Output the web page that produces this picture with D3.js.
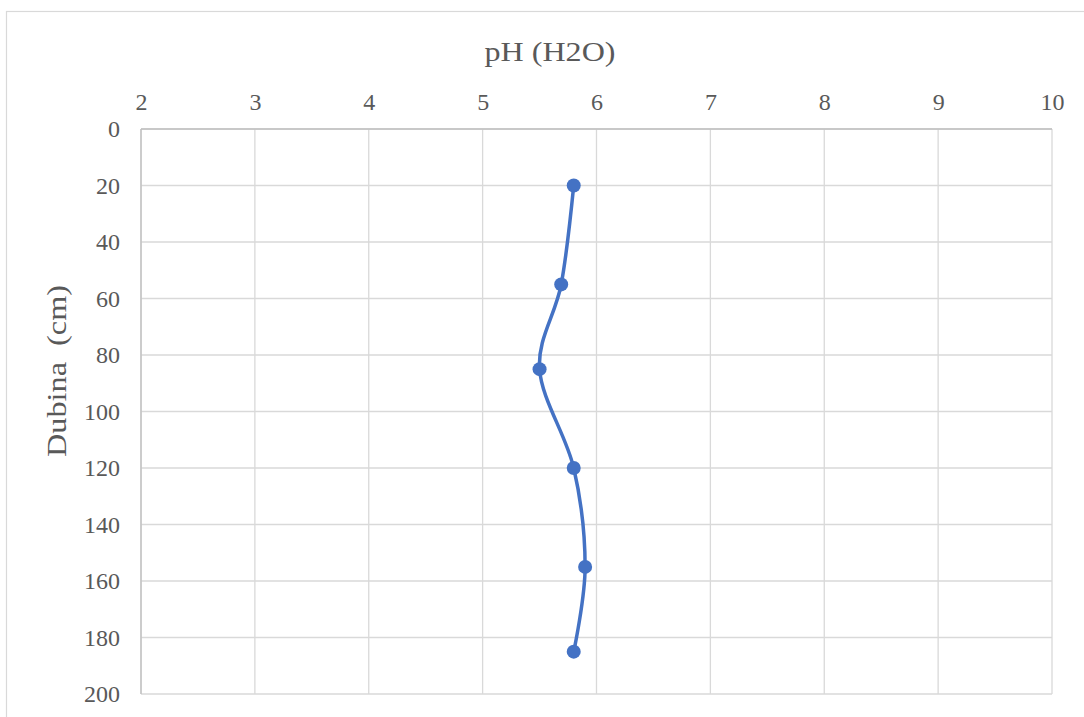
<!DOCTYPE html>
<html>
<head>
<meta charset="utf-8">
<script src="https://cdn.jsdelivr.net/npm/d3@7"></script>
<style>
  html, body { margin: 0; padding: 0; background: #fff; }
  svg { display: block; }
  text { font-family: "Liberation Serif", "Times New Roman", serif; fill: #595959; }
</style>
</head>
<body>
<svg id="chart" width="1084" height="717"></svg>
<script>
// Data
const phValues = [5.8, 5.69, 5.5, 5.8, 5.9, 5.8];
const depthValues = [20, 55, 85, 120, 155, 185];
const xTicks = [2, 3, 4, 5, 6, 7, 8, 9, 10];
const yTicks = [0, 20, 40, 60, 80, 100, 120, 140, 160, 180, 200];
const chartTitle = "pH (H2O)";
const yTitle = "Dubina  (cm)";

const svg = d3.select("#chart");
const W = 1084, H = 717;

// chart border
svg.append("rect")
  .attr("x", 6.5).attr("y", 11.5)
  .attr("width", W + 20).attr("height", H + 20)
  .attr("fill", "#fff").attr("stroke", "#d9d9d9").attr("stroke-width", 1.2);

const x = d3.scaleLinear().domain([2, 10]).range([141, 1052]);
const y = d3.scaleLinear().domain([0, 200]).range([129, 694]);

// gridlines
const g = svg.append("g");
g.selectAll("line.vx").data(xTicks).join("line")
  .attr("x1", d => x(d)).attr("x2", d => x(d))
  .attr("y1", y(0)).attr("y2", y(200))
  .attr("stroke", "#d9d9d9").attr("stroke-width", 1.3);
g.selectAll("line.hy").data(yTicks).join("line")
  .attr("x1", x(2)).attr("x2", x(10))
  .attr("y1", d => y(d)).attr("y2", d => y(d))
  .attr("stroke", "#d9d9d9").attr("stroke-width", 1.3);

// axis lines (top & left)
svg.append("line").attr("x1", x(2)).attr("x2", x(10)).attr("y1", y(0)).attr("y2", y(0))
  .attr("stroke", "#bfbfbf").attr("stroke-width", 1.3);
svg.append("line").attr("x1", x(2)).attr("x2", x(2)).attr("y1", y(0)).attr("y2", y(200))
  .attr("stroke", "#bfbfbf").attr("stroke-width", 1.3);

// axes via d3 for tick labels
const xAxis = d3.axisTop(x).tickValues(xTicks).tickSize(0).tickPadding(19).tickFormat(d3.format("d"));
const xa = svg.append("g").attr("transform", `translate(0,${y(0)})`).call(xAxis);
xa.select(".domain").remove();
xa.selectAll("text").attr("font-size", 24).attr("fill", "#595959")
  .attr("font-family", "Liberation Serif, serif");

const yAxis = d3.axisLeft(y).tickValues(yTicks).tickSize(0).tickPadding(21).tickFormat(d3.format("d"));
const ya = svg.append("g").attr("transform", `translate(${x(2)},0)`).call(yAxis);
ya.select(".domain").remove();
ya.selectAll("text").attr("font-size", 24).attr("fill", "#595959")
  .attr("font-family", "Liberation Serif, serif");

// titles
svg.append("text")
  .attr("x", 550).attr("y", 61)
  .attr("text-anchor", "middle")
  .attr("font-size", 27)
  .attr("textLength", 131).attr("lengthAdjust", "spacingAndGlyphs")
  .text(chartTitle);

svg.append("text")
  .attr("transform", "translate(66,371) rotate(-90)")
  .attr("text-anchor", "middle")
  .attr("font-size", 27)
  .style("white-space", "pre")
  .attr("textLength", 172).attr("lengthAdjust", "spacingAndGlyphs")
  .text(yTitle);

// series
const pts = phValues.map((v, i) => [v, depthValues[i]]);
const line = d3.line().x(d => x(d[0])).y(d => y(d[1])).curve(d3.curveCatmullRom.alpha(0));
svg.append("path").datum(pts)
  .attr("d", line).attr("fill", "none")
  .attr("stroke", "#4472C4").attr("stroke-width", 3.5)
  .attr("stroke-linecap", "round");
svg.selectAll("circle.pt").data(pts).join("circle")
  .attr("cx", d => x(d[0])).attr("cy", d => y(d[1]))
  .attr("r", 7).attr("fill", "#4472C4");
</script>
</body>
</html>
